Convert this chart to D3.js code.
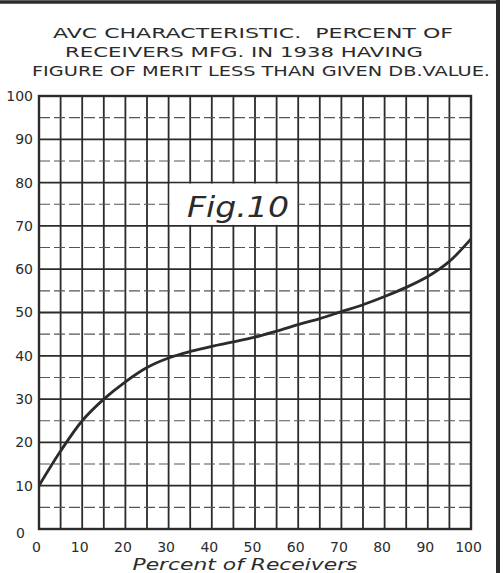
<!DOCTYPE html>
<html>
<head>
<meta charset="utf-8">
<script src="https://cdn.jsdelivr.net/npm/d3@7"></script>
<style>
  body { margin: 0; background: #fff; }
  svg { display: block; }
</style>
</head>
<body>
<svg id="chart"></svg>
<script>
// values
const titleLines = [
  "AVC CHARACTERISTIC.  PERCENT OF",
  "RECEIVERS MFG. IN 1938 HAVING",
  "FIGURE OF MERIT LESS THAN GIVEN DB.VALUE."
];
const percentReceivers = [0, 5, 10, 15, 20, 25, 30, 35, 40, 45, 50, 55, 60, 65, 70, 75, 80, 85, 90, 95, 100];
const figureOfMerit = [10, 18, 25, 30, 34, 37.3, 39.5, 41, 42.2, 43.2, 44.3, 45.7, 47.2, 48.6, 50.2, 51.8, 53.7, 55.8, 58.3, 61.8, 67];
const xTicks = [0, 10, 20, 30, 40, 50, 60, 70, 80, 90, 100];
const yTicks = [0, 10, 20, 30, 40, 50, 60, 70, 80, 90, 100];
const xLabel = "Percent of Receivers";
const figLabel = "Fig.10";

const W = 503, H = 573;
const margin = { top: 96, right: 32, bottom: 44, left: 39 };
const ink = "#2b2b2b";

const svg = d3.select("#chart").attr("width", W).attr("height", H);

const x = d3.scaleLinear().domain([0, 100]).range([margin.left, W - margin.right]);
const y = d3.scaleLinear().domain([0, 100]).range([H - margin.bottom, margin.top]);

// outer frame of the scan (top edge + thick right edge)
svg.append("line").attr("x1", 0).attr("x2", 499).attr("y1", 2).attr("y2", 2)
  .attr("stroke", ink).attr("stroke-width", 3.5);
svg.append("line").attr("x1", 498).attr("x2", 498).attr("y1", 0).attr("y2", H)
  .attr("stroke", ink).attr("stroke-width", 4);

// title
const titleX = [253, 244, 261], titleW = [400, 358, 458], titleY = [38, 57, 76];
svg.selectAll("text.title")
  .data(titleLines)
  .join("text")
  .attr("class", "title")
  .attr("x", (d, i) => titleX[i])
  .attr("y", (d, i) => titleY[i])
  .attr("text-anchor", "middle")
  .attr("textLength", (d, i) => titleW[i])
  .attr("lengthAdjust", "spacingAndGlyphs")
  .style("white-space", "pre")
  .style("font-family", "DejaVu Sans, sans-serif")
  .style("font-size", "14px")
  .attr("fill", ink)
  .text(d => d);

// grid: vertical every 5, horizontal solid every 10, dashed at the 5s
const grid = svg.append("g");
grid.selectAll("line.v")
  .data(d3.range(0, 101, 5))
  .join("line")
  .attr("x1", d => x(d)).attr("x2", d => x(d))
  .attr("y1", y(0)).attr("y2", y(100))
  .attr("stroke", ink).attr("stroke-width", 1.8);
grid.selectAll("line.h")
  .data(d3.range(0, 101, 5))
  .join("line")
  .attr("x1", x(0)).attr("x2", x(100))
  .attr("y1", d => y(d)).attr("y2", d => y(d))
  .attr("stroke", d => d % 10 === 0 ? ink : "#555")
  .attr("stroke-width", d => d % 10 === 0 ? 1.8 : 1.1)
  .attr("stroke-dasharray", d => d % 10 === 0 ? null : "11,4");

// plot border
svg.append("rect")
  .attr("x", x(0)).attr("y", y(100))
  .attr("width", x(100) - x(0)).attr("height", y(0) - y(100))
  .attr("fill", "none").attr("stroke", ink).attr("stroke-width", 2.4);

// Fig.10 label box
svg.append("rect")
  .attr("x", x(30) + 1).attr("y", y(80) + 1)
  .attr("width", x(60) - x(30) - 2).attr("height", y(70) - y(80) - 2)
  .attr("fill", "#fff");
svg.append("text")
  .attr("x", 238).attr("y", 217)
  .attr("text-anchor", "middle")
  .attr("textLength", 102)
  .attr("lengthAdjust", "spacingAndGlyphs")
  .style("font-family", "DejaVu Sans, sans-serif")
  .style("font-style", "italic")
  .style("font-size", "28px")
  .attr("fill", ink)
  .text(figLabel);

// curve
const pts = percentReceivers.map((p, i) => [p, figureOfMerit[i]]);
svg.append("path")
  .datum(pts)
  .attr("d", d3.line().x(d => x(d[0])).y(d => y(d[1])).curve(d3.curveCatmullRom.alpha(0.5)))
  .attr("fill", "none")
  .attr("stroke", ink)
  .attr("stroke-width", 2.8);

// axes labels
const xAxis = svg.append("g")
  .attr("transform", `translate(-3,${y(0)})`)
  .call(d3.axisBottom(x).tickValues(xTicks).tickSize(0).tickPadding(13));
const yAxis = svg.append("g")
  .attr("transform", `translate(${x(0) - 6},0)`)
  .call(d3.axisLeft(y).tickValues(yTicks).tickSize(0).tickPadding(0));
[xAxis, yAxis].forEach(a => {
  a.select(".domain").remove();
  a.selectAll("text")
    .style("font-family", "DejaVu Sans, sans-serif")
    .style("font-size", "14px")
    .attr("fill", ink);
});
yAxis.selectAll(".tick text")
  .filter(d => d === 0)
  .attr("dx", -8).attr("dy", "0.6em");

svg.append("text")
  .attr("x", 245).attr("y", 570)
  .attr("text-anchor", "middle")
  .attr("textLength", 225)
  .attr("lengthAdjust", "spacingAndGlyphs")
  .style("font-family", "DejaVu Sans, sans-serif")
  .style("font-style", "italic")
  .style("font-size", "16px")
  .attr("fill", ink)
  .text(xLabel);
</script>
</body>
</html>
